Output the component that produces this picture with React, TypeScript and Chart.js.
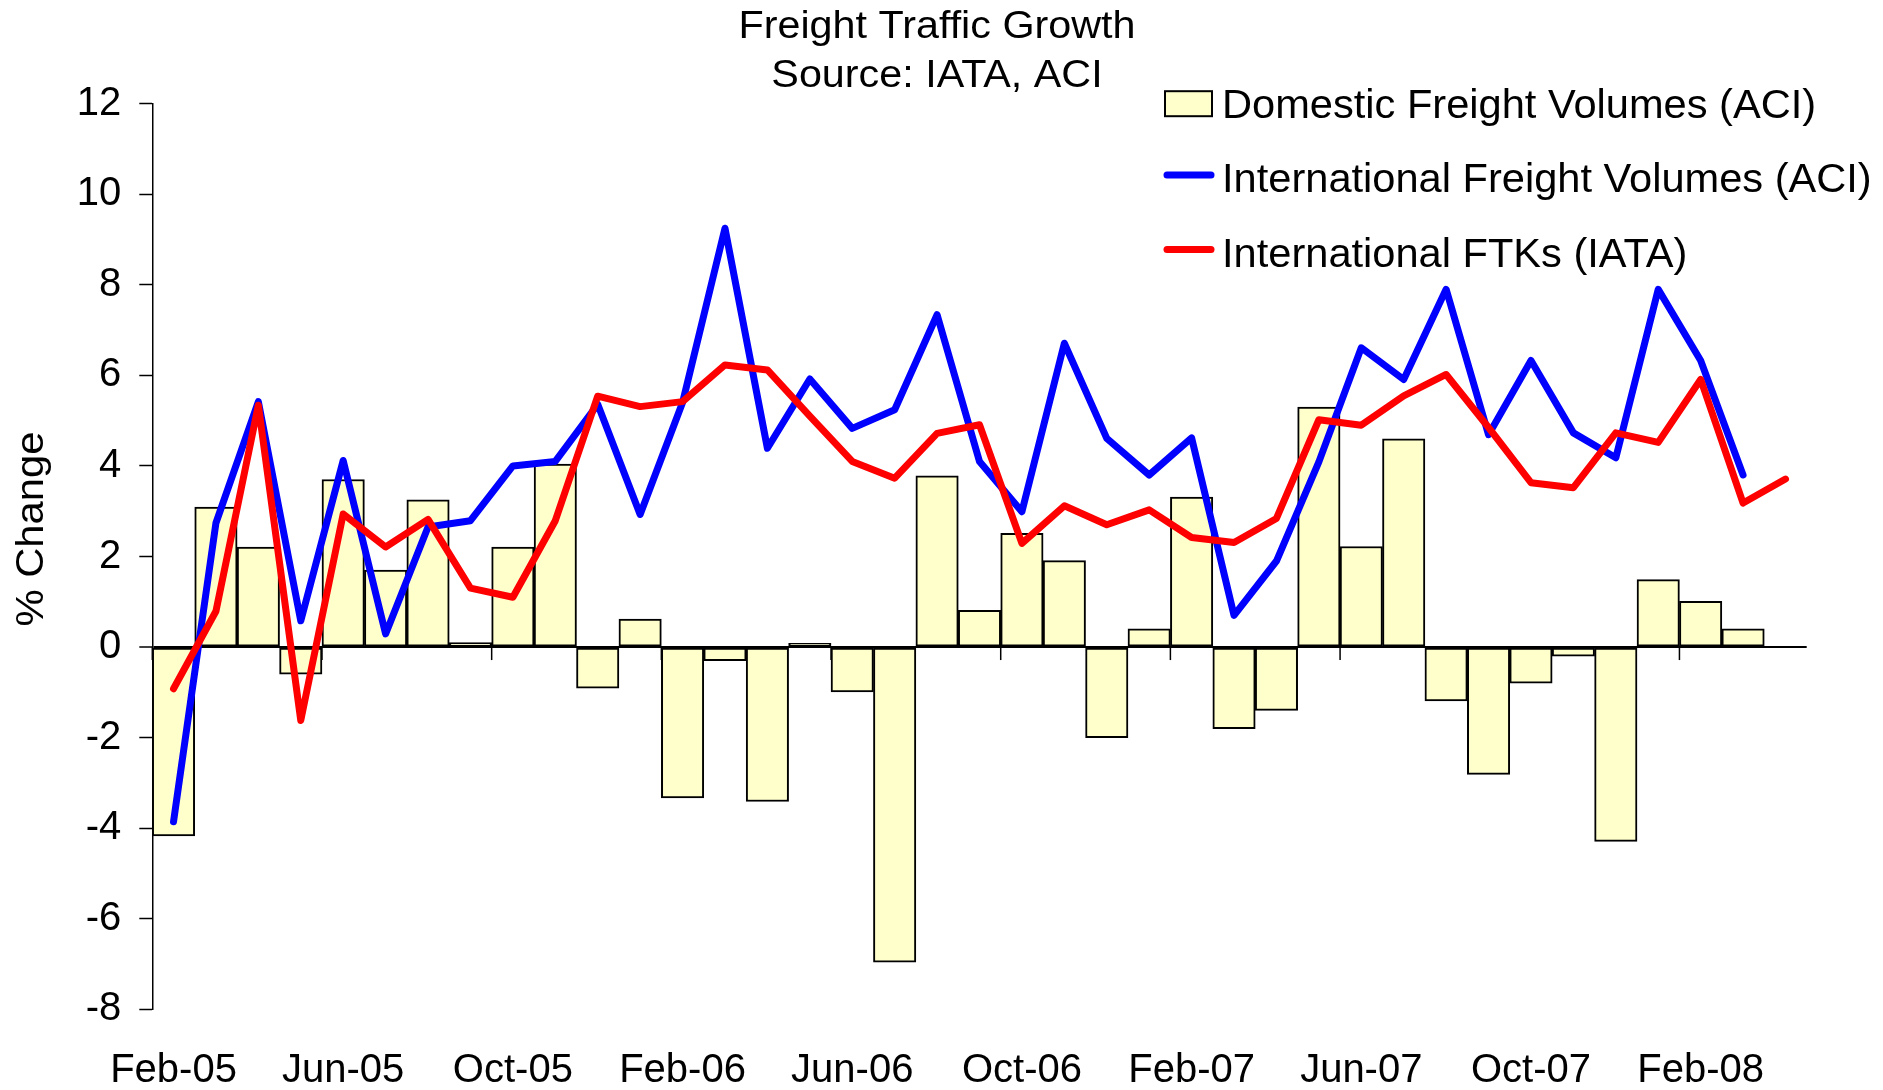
import React, { useEffect, useRef } from 'react';
import { Chart, registerables } from 'chart.js';

Chart.register(...registerables);

const months = [
  'Feb-05', 'Mar-05', 'Apr-05', 'May-05', 'Jun-05', 'Jul-05', 'Aug-05', 'Sep-05', 'Oct-05', 'Nov-05', 'Dec-05',
  'Jan-06', 'Feb-06', 'Mar-06', 'Apr-06', 'May-06', 'Jun-06', 'Jul-06', 'Aug-06', 'Sep-06', 'Oct-06', 'Nov-06', 'Dec-06',
  'Jan-07', 'Feb-07', 'Mar-07', 'Apr-07', 'May-07', 'Jun-07', 'Jul-07', 'Aug-07', 'Sep-07', 'Oct-07', 'Nov-07', 'Dec-07',
  'Jan-08', 'Feb-08', 'Mar-08', 'Apr-08',
];

const domesticACI: (number | null)[] = [
  -4.17, 3.09, 2.21, -0.6, 3.7, 1.7, 3.25, 0.1, 2.21, 4.04, -0.91,
  0.62, -3.33, -0.3, -3.41, 0.08, -0.99, -6.96, 3.78, 0.81, 2.51, 1.91, -2.0,
  0.4, 3.31, -1.8, -1.4, 5.3, 2.22, 4.6, -1.19, -2.81, -0.8, -0.2, -4.29,
  1.49, 1.01, 0.4, null,
];

const internationalACI: (number | null)[] = [
  -3.86, 2.74, 5.42, 0.58, 4.12, 0.29, 2.65, 2.79, 4.0, 4.1, 5.36,
  2.93, 5.4, 9.25, 4.39, 5.92, 4.83, 5.24, 7.34, 4.1, 2.99, 6.71, 4.61,
  3.8, 4.62, 0.7, 1.9, 4.09, 6.61, 5.91, 7.9, 4.69, 6.33, 4.73, 4.18,
  7.9, 6.33, 3.8, null,
];

const internationalIATA: (number | null)[] = [
  -0.92, 0.79, 5.34, -1.62, 2.94, 2.21, 2.82, 1.3, 1.1, 2.79, 5.54,
  5.31, 5.42, 6.23, 6.12, 5.1, 4.1, 3.73, 4.72, 4.91, 2.29, 3.12, 2.7,
  3.03, 2.42, 2.31, 2.84, 5.02, 4.9, 5.55, 6.02, 4.85, 3.63, 3.52, 4.73,
  4.52, 5.91, 3.18, 3.71,
];

const seriesNames = [
  'Domestic Freight Volumes (ACI)',
  'International Freight Volumes (ACI)',
  'International FTKs (IATA)',
];
const titleLines = ['Freight Traffic Growth', 'Source: IATA, ACI'];
const yAxisTitle = '% Change';

const FONT = '"Liberation Sans", Arial, Helvetica, sans-serif';
const BAR_FILL = '#FFFFCC';
const BLUE = '#0000FF';
const RED = '#FF0000';

const decorPlugin = {
  id: 'decor',
  beforeDatasetsDraw(chart: any) {
    const ctx = chart.ctx;
    const xs = chart.scales.x;
    const ys = chart.scales.y;
    const half = (xs.getPixelForValue(1) - xs.getPixelForValue(0)) / 2;
    const y0 = ys.getPixelForValue(0);
    ctx.save();
    ctx.strokeStyle = '#000';
    ctx.lineWidth = 1.5;
    for (let i = 0; i < months.length; i += 4) {
      const px = xs.getPixelForValue(i) - half;
      ctx.beginPath();
      ctx.moveTo(px, y0);
      ctx.lineTo(px, y0 + 13);
      ctx.stroke();
    }
    ctx.restore();
  },
  afterDraw(chart: any) {
    const ctx = chart.ctx;
    ctx.save();
    ctx.fillStyle = '#000';
    // Title
    ctx.font = `38px ${FONT}`;
    ctx.textAlign = 'center';
    ctx.textBaseline = 'alphabetic';
    const titleBaselines = [38.3, 87.3];
    titleLines.forEach((t, i) => {
      ctx.save();
      ctx.translate(937, titleBaselines[i]);
      ctx.scale(1.087, 1);
      ctx.fillText(t, 0, 0);
      ctx.restore();
    });
    // Legend
    const ds = chart.data.datasets;
    const rowBase = [118.2, 192, 266.5];
    ctx.font = `40px ${FONT}`;
    ctx.textAlign = 'left';
    ds.forEach((d: any, i: number) => {
      const by = rowBase[i];
      if (d.type === 'bar') {
        ctx.fillStyle = BAR_FILL;
        ctx.fillRect(1165, by - 27, 47, 25);
        ctx.strokeStyle = '#000';
        ctx.lineWidth = 2;
        ctx.strokeRect(1165, by - 27, 47, 25);
      } else {
        ctx.strokeStyle = d.borderColor;
        ctx.lineWidth = 7;
        ctx.lineCap = 'round';
        ctx.beginPath();
        ctx.moveTo(1167, by - 17);
        ctx.lineTo(1211, by - 17);
        ctx.stroke();
      }
      ctx.fillStyle = '#000';
      ctx.save();
      ctx.translate(1222, by);
      ctx.scale(1.04, 1);
      ctx.fillText(d.label, 0, 0);
      ctx.restore();
    });
    // Y axis title
    ctx.font = `38px ${FONT}`;
    ctx.textAlign = 'center';
    ctx.save();
    ctx.translate(43.3, 529);
    ctx.rotate(-Math.PI / 2);
    ctx.scale(1.1, 1);
    ctx.fillText(yAxisTitle, 0, 0);
    ctx.restore();
    ctx.restore();
  },
};

export default function App() {
  const ref = useRef<HTMLCanvasElement | null>(null);

  useEffect(() => {
    if (!ref.current) return;
    const chart = new Chart(ref.current, {
      type: 'bar',
      data: {
        labels: months,
        datasets: [
          {
            type: 'bar',
            label: seriesNames[0],
            data: domesticACI,
            backgroundColor: BAR_FILL,
            borderColor: '#000',
            borderWidth: 2,
            borderSkipped: false,
            barPercentage: 1,
            categoryPercentage: 1,
            order: 2,
          } as any,
          {
            type: 'line',
            label: seriesNames[1],
            data: internationalACI,
            borderColor: BLUE,
            backgroundColor: BLUE,
            borderWidth: 7,
            pointRadius: 0,
            tension: 0,
            borderCapStyle: 'round',
            borderJoinStyle: 'round',
            spanGaps: false,
            order: 1,
          } as any,
          {
            type: 'line',
            label: seriesNames[2],
            data: internationalIATA,
            borderColor: RED,
            backgroundColor: RED,
            borderWidth: 7,
            pointRadius: 0,
            tension: 0,
            borderCapStyle: 'round',
            borderJoinStyle: 'round',
            spanGaps: false,
            order: 0,
          } as any,
        ],
      },
      options: {
        responsive: false,
        animation: false,
        devicePixelRatio: 1,
        layout: { padding: { top: 103.7, right: 76.3, left: 0, bottom: 0 } },
        plugins: {
          legend: { display: false },
          title: { display: false },
          tooltip: { enabled: false },
        },
        scales: {
          x: {
            grid: { display: false, drawTicks: false },
            border: { display: false },
            ticks: {
              autoSkip: false,
              maxRotation: 0,
              minRotation: 0,
              padding: 38,
              color: '#000',
              font: { family: FONT, size: 40 },
              callback: (_v: any, i: number) => (i % 4 === 0 ? months[i] : ''),
            },
            afterFit: (s: any) => {
              s.height = 80.7;
            },
          },
          y: {
            min: -8,
            max: 12,
            ticks: {
              stepSize: 2,
              padding: 18,
              color: '#000',
              font: { family: FONT, size: 40 },
            },
            grid: {
              drawOnChartArea: true,
              drawTicks: true,
              tickLength: 13,
              tickColor: '#000',
              tickWidth: 1.5,
              color: (c: any) => (c.tick && c.tick.value === 0 ? '#000' : 'rgba(0,0,0,0)'),
              lineWidth: (c: any) => (c.tick && c.tick.value === 0 ? 2 : 1),
            },
            border: { display: true, color: '#000', width: 1.5 },
            afterFit: (s: any) => {
              s.width = 152.3;
            },
          },
        },
      } as any,
      plugins: [decorPlugin],
    });
    return () => chart.destroy();
  }, []);

  return (
    <div style={{ margin: -8, width: 1883, height: 1090 }}>
      <canvas ref={ref} width={1883} height={1090} style={{ display: 'block' }} />
    </div>
  );
}
